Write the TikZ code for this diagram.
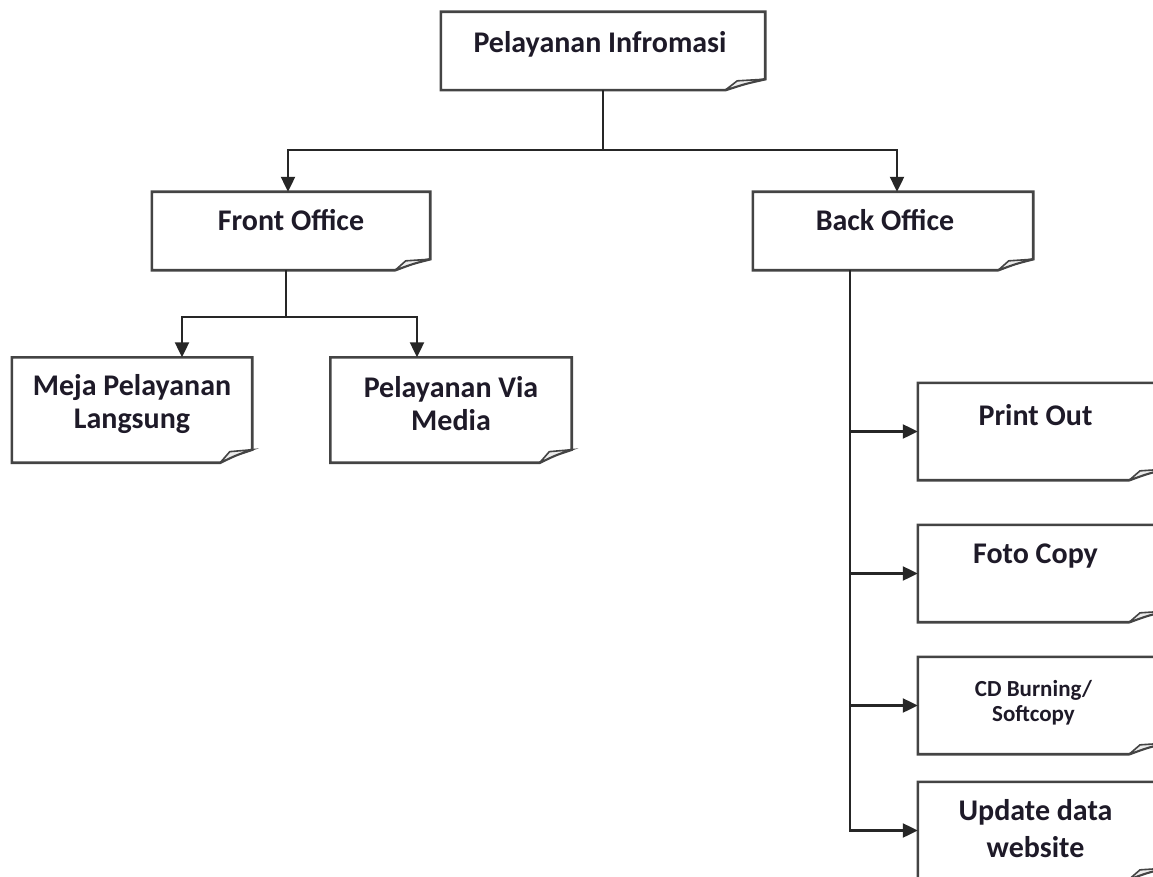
\documentclass[tikz,border=0pt]{standalone}
\usepackage{fontspec}
\setmainfont{Carlito}
\usetikzlibrary{arrows.meta}
\definecolor{ink}{HTML}{1E1A28}
\definecolor{edge}{HTML}{444444}
\tikzset{
  box/.style={draw=none, inner sep=0pt, rectangle},
  txt/.style={font=\bfseries\fontsize{30}{33}\selectfont, text=ink, align=center, inner sep=0pt},
  updtxt/.style={font=\bfseries\fontsize{30}{37}\selectfont, text=ink, align=center, inner sep=0pt},
  smalltxt/.style={font=\bfseries\fontsize{23}{25}\selectfont, text=ink, align=center, inner sep=0pt},
  outline/.style={draw=edge, line width=2.6pt, line join=miter, fill=white},
  flap/.style={draw=edge, line width=1.6pt, fill=gray!15},
  conn/.style={draw=black!85, line width=2.2pt},
  arr/.style={conn, -{Triangle[length=15pt,width=14pt]}}
}
\newcommand{\notebox}[3]{%
  \path[outline] (#1.north west) -- (#1.north east) -- ([yshift=#3pt]#1.south east)
    .. controls ([xshift=-#2pt*0.5,yshift=#3pt*0.6]#1.south east) .. ([xshift=-#2pt]#1.south east)
    -- (#1.south west) -- cycle;
  \path[flap] ([xshift=-#2pt]#1.south east) -- ([xshift=-#2pt*0.7,yshift=#3pt*0.85]#1.south east)
    -- ([yshift=#3pt]#1.south east) .. controls ([xshift=-#2pt*0.5,yshift=#3pt*0.6]#1.south east) .. ([xshift=-#2pt]#1.south east);
}
\begin{document}
\begin{tikzpicture}[x=1pt,y=-1pt]
\useasboundingbox (0,0) rectangle (1153,877);
\clip (0,0) rectangle (1153,877);
\fill[white] (0,0) rectangle (1153,877);

% boxes
\node[box, minimum width=324pt, minimum height=78pt] (top) at (603,51) {};
\node[box, minimum width=278pt, minimum height=78pt] (front) at (291,231) {};
\node[box, minimum width=280pt, minimum height=78pt] (back) at (893,231) {};
\node[box, minimum width=240pt, minimum height=105pt] (meja) at (132,410) {};
\node[box, minimum width=241pt, minimum height=105pt] (via) at (451,410) {};
\node[box, minimum width=247pt, minimum height=97pt] (print) at (1041.5,431.5) {};
\node[box, minimum width=247pt, minimum height=97pt] (foto) at (1041.5,573.5) {};
\node[box, minimum width=247pt, minimum height=97pt] (cd) at (1041.5,705.5) {};
\node[box, minimum width=247pt, minimum height=97pt] (upd) at (1041.5,830.5) {};

\notebox{top}{40}{11}
\notebox{front}{35}{11}
\notebox{back}{35}{11}
\notebox{meja}{32}{13}
\notebox{via}{32}{13}
\notebox{print}{36}{11}
\notebox{foto}{36}{11}
\notebox{cd}{36}{11}
\notebox{upd}{36}{11}

% texts
\node[txt] (ttop) at ([xshift=-3pt,yshift=7pt]top.center) {Pelayanan Infromasi};
\node[txt] (tfront) at ([yshift=11pt]front.center) {Front Office};
\node[txt] (tback) at ([xshift=-8pt,yshift=11pt]back.center) {Back Office};
\node[txt] (tmeja) at ([yshift=6pt]meja.center) {Meja Pelayanan\\Langsung};
\node[txt] (tvia) at ([yshift=6pt]via.center) {Pelayanan Via\\Media};
\node[txt] (tprint) at ([xshift=-6pt,yshift=16pt]print.center) {Print Out};
\node[txt] (tfoto) at ([xshift=-6pt,yshift=17pt]foto.center) {Foto Copy};
\node[smalltxt] (tcd) at ([xshift=-8pt,yshift=3pt]cd.center) {CD Burning/\\Softcopy};
\node[updtxt] (tupd) at ([xshift=-6pt,yshift=2pt]upd.center) {Update data\\website};

% connectors
\coordinate (bus1) at (0,150);
\coordinate (bus2) at (0,317);
\coordinate (frontin) at ([xshift=-3pt]front.north);
\coordinate (backin) at ([xshift=4pt]back.north);
\draw[arr] (top.south) -- (top.south |- bus1) -| (frontin);
\draw[arr] (top.south |- bus1) -| (backin);
\coordinate (frontout) at ([xshift=-5pt]front.south);
\draw[conn] (frontout) -- (frontout |- bus2);
\coordinate (mejain) at ([xshift=50pt]meja.north);
\coordinate (viain) at ([xshift=-34pt]via.north);
\draw[arr] (frontout |- bus2) -| (mejain);
\draw[arr] (frontout |- bus2) -| (viain);
\coordinate (bk) at ([xshift=-43pt]back.south);
\draw[arr] (bk) |- (upd.west);
\draw[arr] (bk |- print.west) -- (print.west);
\draw[arr] (bk |- foto.west) -- (foto.west);
\draw[arr] (bk |- cd.west) -- (cd.west);
\end{tikzpicture}
\end{document}
